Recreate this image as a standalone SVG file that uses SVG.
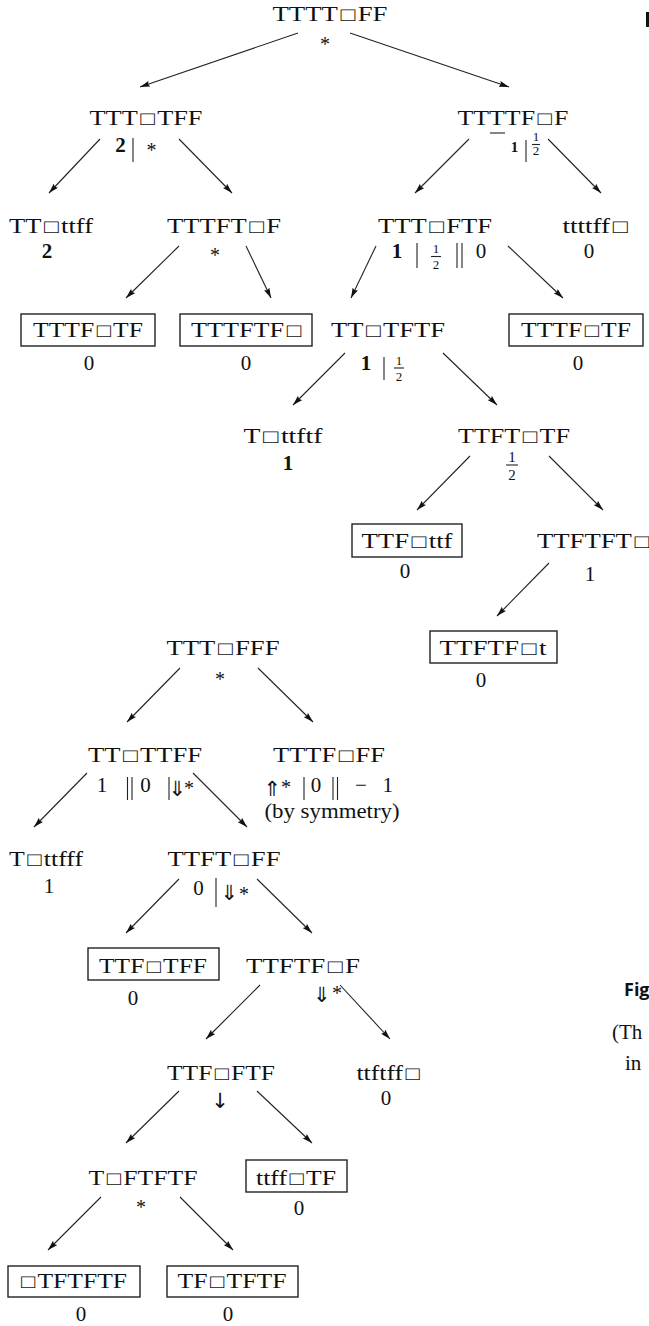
<svg xmlns="http://www.w3.org/2000/svg" width="649" height="1326" viewBox="0 0 649 1326">
<style>
text{font-family:"Liberation Serif","DejaVu Serif",serif;fill:#111;text-anchor:middle}
.l{font-size:21px}
.sq{font-size:19px}
.v{font-size:21px}
.b{font-size:21px;font-weight:bold}
.bs{font-size:15px;font-weight:bold}
.f{font-size:13px}
.fl{font-size:15px}
.ast{font-size:20px}
.ar{font-size:21px;font-family:"DejaVu Sans",sans-serif}
.box{fill:none;stroke:#222;stroke-width:1.4}
.rule{stroke:#222;stroke-width:1.1}
.cn line{stroke:#222;stroke-width:1.1;marker-end:url(#ah)}
.cap{font-family:"Open Sans","Liberation Sans",sans-serif;font-weight:bold;font-size:18px;text-anchor:start}
</style>
<defs>
<marker id="ah" viewBox="0 0 10 6" refX="10" refY="3" markerWidth="10" markerHeight="6" markerUnits="userSpaceOnUse" orient="auto">
<path d="M0,0 L10,3 L0,6 L1.5,3 Z" fill="#111"/>
</marker>
</defs>
<rect width="649" height="1326" fill="#fff"/>

<g id="connectors" class="cn">
<line x1="298" y1="33" x2="140" y2="87"/>
<line x1="350" y1="33" x2="509" y2="87"/>
<line x1="100" y1="139" x2="49" y2="193"/>
<line x1="179" y1="139" x2="232" y2="193"/>
<line x1="469" y1="139" x2="415" y2="193"/>
<line x1="548" y1="139" x2="601" y2="193"/>
<line x1="179" y1="246" x2="126" y2="298"/>
<line x1="246" y1="246" x2="271" y2="298"/>
<line x1="376" y1="246" x2="351" y2="298"/>
<line x1="508" y1="246" x2="563" y2="298"/>
<line x1="345" y1="353" x2="293" y2="405"/>
<line x1="443" y1="353" x2="497" y2="405"/>
<line x1="470" y1="456" x2="417" y2="510"/>
<line x1="549" y1="456" x2="603" y2="510"/>
<line x1="549" y1="563" x2="497" y2="616"/>
<line x1="180" y1="668" x2="127" y2="722"/>
<line x1="258" y1="668" x2="313" y2="722"/>
<line x1="87" y1="773" x2="34" y2="827"/>
<line x1="193" y1="773" x2="247" y2="827"/>
<line x1="179" y1="879" x2="126" y2="933"/>
<line x1="257" y1="879" x2="312" y2="933"/>
<line x1="260" y1="985" x2="206" y2="1039"/>
<line x1="340" y1="985" x2="390" y2="1039"/>
<line x1="179" y1="1091" x2="126" y2="1143"/>
<line x1="257" y1="1091" x2="312" y2="1143"/>
<line x1="101" y1="1197" x2="48" y2="1250"/>
<line x1="180" y1="1197" x2="233" y2="1250"/>
</g>

<g id="n-TTTTxFF">
<text class="l" x="330" y="21" textLength="115" lengthAdjust="spacingAndGlyphs">TTTT<tspan class="sq" dx="2">□</tspan><tspan dx="2">FF</tspan></text>
<text class="ast" x="325" y="51">*</text>
</g>
<g id="n-TTTxTFF">
<text class="l" x="146" y="125" textLength="113" lengthAdjust="spacingAndGlyphs">TTT<tspan class="sq" dx="2">□</tspan><tspan dx="2">TFF</tspan></text>
<text class="b" x="120.5" y="152">2</text>
<line class="rule" x1="133" y1="138" x2="133" y2="162"/>
<text class="ast" x="151.5" y="157">*</text>
</g>
<g id="n-TTTTFxF">
<text class="l" x="513" y="125" textLength="111" lengthAdjust="spacingAndGlyphs">TTTTF<tspan class="sq" dx="2">□</tspan><tspan dx="2">F</tspan></text>
<line class="rule" x1="490" y1="133" x2="505" y2="133" stroke-width="1.6"/>
<text class="bs" x="514.5" y="152">1</text>
<line class="rule" x1="526" y1="140" x2="526" y2="162"/>
<text class="f" x="536" y="141" font-size="10">1</text>
<line class="rule" x1="532" y1="144.5" x2="540" y2="144.5" stroke-width="0.8"/>
<text class="f" x="536" y="155" font-size="10">2</text>
</g>
<g id="n-TTxttff">
<text class="l" x="51" y="233" textLength="84" lengthAdjust="spacingAndGlyphs">TT<tspan class="sq" dx="2">□</tspan><tspan dx="2">ttff</tspan></text>
<text class="b" x="47" y="258">2</text>
</g>
<g id="n-TTTFTxF">
<text class="l" x="224" y="233" textLength="114" lengthAdjust="spacingAndGlyphs">TTTFT<tspan class="sq" dx="2">□</tspan><tspan dx="2">F</tspan></text>
<text class="ast" x="215" y="262">*</text>
</g>
<g id="n-TTTxFTF">
<text class="l" x="435" y="233" textLength="114" lengthAdjust="spacingAndGlyphs">TTT<tspan class="sq" dx="2">□</tspan><tspan dx="2">FTF</tspan></text>
<text class="b" x="397" y="258">1</text>
<line class="rule" x1="417" y1="243" x2="417" y2="268"/>
<text class="f" x="436" y="253">1</text>
<line class="rule" x1="431" y1="256.5" x2="441" y2="256.5" stroke-width="0.9"/>
<text class="f" x="436" y="268.5">2</text>
<line class="rule" x1="457" y1="243" x2="457" y2="268"/>
<line class="rule" x1="462" y1="243" x2="462" y2="268"/>
<text class="v" x="481" y="258">0</text>
</g>
<g id="n-ttttffx">
<text class="l" x="595" y="233" textLength="65" lengthAdjust="spacingAndGlyphs">ttttff<tspan class="sq" dx="2">□</tspan></text>
<text class="v" x="589" y="258">0</text>
</g>
<g id="n-TTTFxTF-1">
<rect class="box" x="21" y="314" width="134" height="32"/>
<text class="l" x="88" y="337" textLength="110" lengthAdjust="spacingAndGlyphs">TTTF<tspan class="sq" dx="2">□</tspan><tspan dx="2">TF</tspan></text>
<text class="v" x="89" y="370">0</text>
</g>
<g id="n-TTTFTFx">
<rect class="box" x="180" y="314" width="132" height="32"/>
<text class="l" x="246" y="337" textLength="110" lengthAdjust="spacingAndGlyphs">TTTFTF<tspan class="sq" dx="2">□</tspan></text>
<text class="v" x="246" y="370">0</text>
</g>
<g id="n-TTxTFTF">
<text class="l" x="388" y="337" textLength="114" lengthAdjust="spacingAndGlyphs">TT<tspan class="sq" dx="2">□</tspan><tspan dx="2">TFTF</tspan></text>
<text class="b" x="366" y="370">1</text>
<line class="rule" x1="384" y1="357" x2="384" y2="380"/>
<text class="f" x="399" y="365">1</text>
<line class="rule" x1="394" y1="368" x2="404" y2="368" stroke-width="0.9"/>
<text class="f" x="399" y="380.5">2</text>
</g>
<g id="n-TTTFxTF-2">
<rect class="box" x="509" y="314" width="134" height="32"/>
<text class="l" x="576" y="337" textLength="110" lengthAdjust="spacingAndGlyphs">TTTF<tspan class="sq" dx="2">□</tspan><tspan dx="2">TF</tspan></text>
<text class="v" x="578" y="370">0</text>
</g>
<g id="n-Txttftf">
<text class="l" x="283" y="443" textLength="79" lengthAdjust="spacingAndGlyphs">T<tspan class="sq" dx="2">□</tspan><tspan dx="2">ttftf</tspan></text>
<text class="b" x="288" y="470">1</text>
</g>
<g id="n-TTFTxTF">
<text class="l" x="514" y="443" textLength="112" lengthAdjust="spacingAndGlyphs">TTFT<tspan class="sq" dx="2">□</tspan><tspan dx="2">TF</tspan></text>
<text class="fl" x="512" y="462">1</text>
<line class="rule" x1="506" y1="465" x2="518" y2="465" stroke-width="0.9"/>
<text class="fl" x="512" y="479.5">2</text>
</g>
<g id="n-TTFxttf">
<rect class="box" x="352" y="524" width="110" height="33"/>
<text class="l" x="407" y="548" textLength="91" lengthAdjust="spacingAndGlyphs">TTF<tspan class="sq" dx="2">□</tspan><tspan dx="2">ttf</tspan></text>
<text class="v" x="405" y="578">0</text>
</g>
<g id="n-TTFTFTx">
<text class="l" x="593" y="548" textLength="112" lengthAdjust="spacingAndGlyphs">TTFTFT<tspan class="sq" dx="2">□</tspan></text>
<text class="v" x="590" y="581">1</text>
</g>
<g id="n-TTFTFxt">
<rect class="box" x="430" y="631" width="127" height="32"/>
<text class="l" x="493" y="655" textLength="107" lengthAdjust="spacingAndGlyphs">TTFTF<tspan class="sq" dx="2">□</tspan><tspan dx="2">t</tspan></text>
<text class="v" x="481" y="687">0</text>
</g>

<g id="m-TTTxFFF">
<text class="l" x="223" y="655" textLength="113" lengthAdjust="spacingAndGlyphs">TTT<tspan class="sq" dx="2">□</tspan><tspan dx="2">FFF</tspan></text>
<text class="ast" x="220" y="686">*</text>
</g>
<g id="m-TTxTTFF">
<text class="l" x="145" y="762" textLength="114" lengthAdjust="spacingAndGlyphs">TT<tspan class="sq" dx="2">□</tspan><tspan dx="2">TTFF</tspan></text>
<text class="v" x="102" y="792">1</text>
<line class="rule" x1="127.5" y1="777" x2="127.5" y2="800"/>
<line class="rule" x1="132" y1="777" x2="132" y2="800"/>
<text class="v" x="145.5" y="792">0</text>
<line class="rule" x1="169" y1="777" x2="169" y2="800"/>
<text class="ar" x="177" y="796">⇓</text>
<text class="ast" x="189" y="794.5">*</text>
</g>
<g id="m-TTTFxFF">
<text class="l" x="329" y="762" textLength="112" lengthAdjust="spacingAndGlyphs">TTTF<tspan class="sq" dx="2">□</tspan><tspan dx="2">FF</tspan></text>
<text class="ar" x="272" y="796">⇑</text>
<text class="ast" x="286" y="794">*</text>
<line class="rule" x1="304" y1="777" x2="304" y2="800"/>
<text class="v" x="316" y="792">0</text>
<line class="rule" x1="333" y1="777" x2="333" y2="800"/>
<line class="rule" x1="337.5" y1="777" x2="337.5" y2="800"/>
<text class="v" x="374" y="792" textLength="38" lengthAdjust="spacing">−1</text>
<text class="v" x="332" y="818" font-size="19" textLength="135" lengthAdjust="spacingAndGlyphs">(by symmetry)</text>
</g>
<g id="m-Txttfff">
<text class="l" x="46" y="866" textLength="74" lengthAdjust="spacingAndGlyphs">T<tspan class="sq" dx="2">□</tspan><tspan dx="2">ttfff</tspan></text>
<text class="v" x="49" y="893">1</text>
</g>
<g id="m-TTFTxFF">
<text class="l" x="224" y="866" textLength="113" lengthAdjust="spacingAndGlyphs">TTFT<tspan class="sq" dx="2">□</tspan><tspan dx="2">FF</tspan></text>
<text class="v" x="198.5" y="895">0</text>
<line class="rule" x1="216" y1="878" x2="216" y2="907"/>
<text class="ar" x="229" y="900">⇓</text>
<text class="ast" x="244" y="901">*</text>
</g>
<g id="m-TTFxTFF">
<rect class="box" x="88" y="948" width="131" height="32"/>
<text class="l" x="153" y="973" textLength="108" lengthAdjust="spacingAndGlyphs">TTF<tspan class="sq" dx="2">□</tspan><tspan dx="2">TFF</tspan></text>
<text class="v" x="133" y="1005">0</text>
</g>
<g id="m-TTFTFxF">
<text class="l" x="303" y="973" textLength="114" lengthAdjust="spacingAndGlyphs">TTFTF<tspan class="sq" dx="2">□</tspan><tspan dx="2">F</tspan></text>
<text class="ar" x="321.5" y="1002">⇓</text>
<text class="ast" x="337" y="1000">*</text>
</g>
<g id="m-TTFxFTF">
<text class="l" x="221" y="1080" textLength="108" lengthAdjust="spacingAndGlyphs">TTF<tspan class="sq" dx="2">□</tspan><tspan dx="2">FTF</tspan></text>
<text class="ar" x="220" y="1108">↓</text>
</g>
<g id="m-ttftffx">
<text class="l" x="388" y="1080" textLength="63" lengthAdjust="spacingAndGlyphs">ttftff<tspan class="sq" dx="2">□</tspan></text>
<text class="v" x="386" y="1105">0</text>
</g>
<g id="m-TxFTFTF">
<text class="l" x="143" y="1185" textLength="109" lengthAdjust="spacingAndGlyphs">T<tspan class="sq" dx="2">□</tspan><tspan dx="2">FTFTF</tspan></text>
<text class="ast" x="141" y="1213.5">*</text>
</g>
<g id="m-ttffxTF">
<rect class="box" x="246" y="1160" width="101" height="32"/>
<text class="l" x="296" y="1185" textLength="80" lengthAdjust="spacingAndGlyphs">ttff<tspan class="sq" dx="2">□</tspan><tspan dx="2">TF</tspan></text>
<text class="v" x="299" y="1215">0</text>
</g>
<g id="m-xTFTFTF">
<rect class="box" x="8" y="1266" width="132" height="31"/>
<text class="l" x="74" y="1288" textLength="106" lengthAdjust="spacingAndGlyphs"><tspan class="sq">□</tspan><tspan dx="2">TFTFTF</tspan></text>
<text class="v" x="81" y="1321">0</text>
</g>
<g id="m-TFxTFTF">
<rect class="box" x="167" y="1266" width="131" height="31"/>
<text class="l" x="232" y="1288" textLength="109" lengthAdjust="spacingAndGlyphs">TF<tspan class="sq" dx="2">□</tspan><tspan dx="2">TFTF</tspan></text>
<text class="v" x="228" y="1321">0</text>
</g>

<g id="caption-fragments">
<rect x="646" y="12" width="3" height="15" fill="#111"/>
<text class="cap" x="624" y="996">Fig</text>
<text class="v" x="612" y="1039" style="text-anchor:start">(Th</text>
<text class="v" x="625" y="1070" style="text-anchor:start">in</text>
</g>
</svg>
